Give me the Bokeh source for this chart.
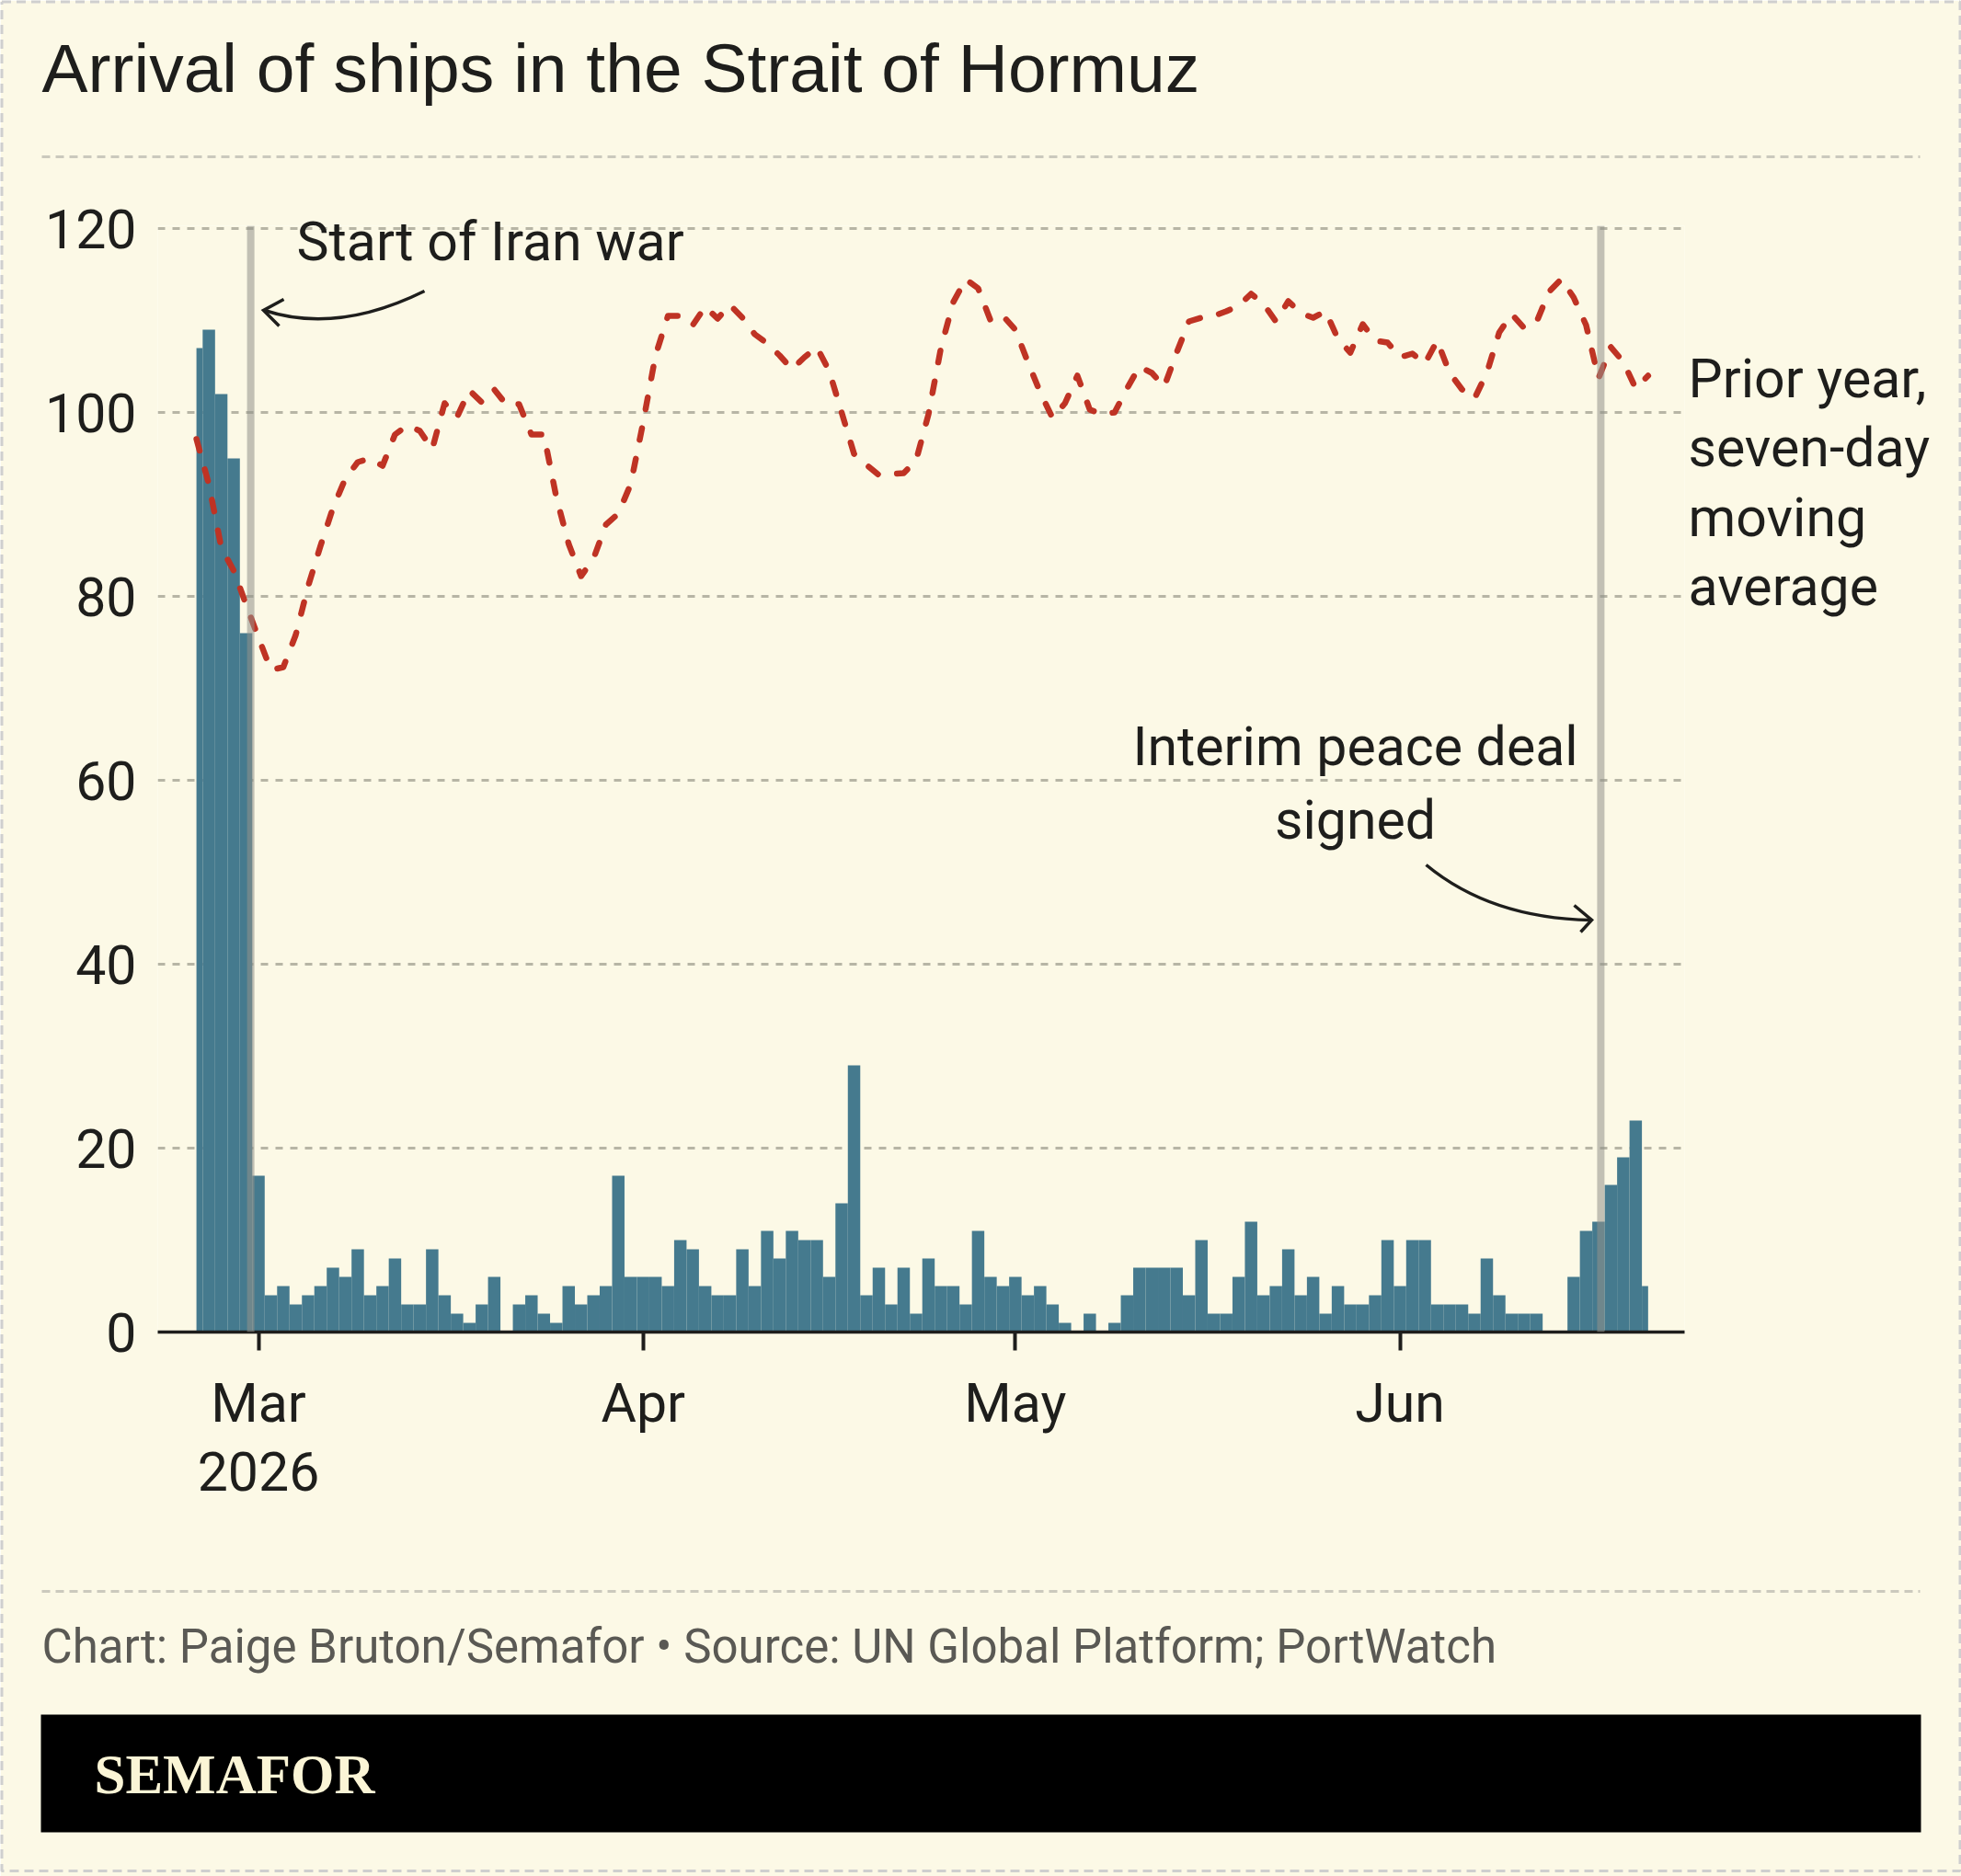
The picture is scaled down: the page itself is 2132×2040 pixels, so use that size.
import numpy as np
import pandas as pd
from bokeh.plotting import figure
from bokeh.models import Range1d, FixedTicker, Span
from bokeh.core.properties import value
from bokeh.embed import file_html
from bokeh.resources import INLINE

# ---------------- data ----------------
first_day = "2026-02-24"
last_day = "2026-06-21"
reference_day = "2026-03-01"

arrivals = [
    107, 109, 102, 95, 76,
    17, 4, 5, 3, 4, 5, 7, 6, 9, 4, 5, 8, 3, 3, 9, 4, 2, 1, 3, 6, 0, 3, 4, 2, 1, 5, 3, 4, 5, 17, 6,
    6, 6, 5, 10, 9, 5, 4, 4, 9, 5, 11, 8, 11, 10, 10, 6, 14, 29, 4, 7, 3, 7, 2, 8, 5, 5, 3, 11, 6, 5,
    6, 4, 5, 3, 1, 0, 2, 0, 1, 4, 7, 7, 7, 7, 4, 10, 2, 2, 6, 12, 4, 5, 9, 4, 6, 2, 5, 3, 3, 4, 10,
    5, 10, 10, 3, 3, 3, 2, 8, 4, 2, 2, 2, 0, 0, 6, 11, 12, 16, 19, 23, 5,
]

prior_year_avg = [
    97.1, 92.2, 85.3, 82.8, 79.1,
    75.5, 72.0, 72.3, 75.8, 81.1, 85.5, 89.6, 92.8, 94.6, 95.0, 94.2, 97.6, 98.6, 98.0, 96.0, 101.0,
    99.5, 102.4, 101.1, 102.5, 100.8, 100.9, 97.6, 97.6, 90.8, 85.7, 82.2, 84.1, 87.8, 89.0, 92.2,
    98.9, 106.2, 110.5, 110.5, 109.5, 111.5, 110.2, 111.7, 110.3, 108.5, 107.5, 106.2, 104.7, 106.0,
    107.1, 104.5, 100.0, 95.5, 94.3, 93.2, 93.3, 93.4, 94.8, 99.8, 107.0, 112.0, 114.5, 113.5, 110.0,
    110.5,
    109.0, 105.5, 102.2, 99.4, 101.0, 104.0, 100.3, 99.8, 100.0, 102.6, 105.0, 104.3, 102.8, 106.5,
    109.9, 110.3, 110.5, 111.0, 111.6, 112.9, 111.8, 109.9, 112.1, 110.8, 110.3, 111.0, 108.0, 106.5,
    109.6, 107.8, 107.6,
    106.0, 106.4, 105.3, 107.8, 104.3, 102.5, 101.5, 104.3, 108.7, 110.7, 109.2, 109.8, 113.1, 114.5,
    112.5, 109.5, 103.7, 107.1, 105.5, 102.6, 104.0,
]

tick_dates = ["2026-03-01", "2026-04-01", "2026-05-01", "2026-06-01"]
tick_labels = ["Mar\n2026", "Apr", "May", "Jun"]
y_ticks = [0, 20, 40, 60, 80, 100, 120]

event_times = ["2026-02-28 09:00", "2026-06-17 04:30"]

title_text = "Arrival of ships in the Strait of Hormuz"
war_text = "Start of Iran war"
deal_lines = ["Interim peace deal", "signed"]
prior_lines = ["Prior year,", "seven-day", "moving", "average"]
source_text = "Chart: Paige Bruton/Semafor \u2022 Source: UN Global Platform; PortWatch"
brand_text = "SEMAFOR"

# ---------------- derived ----------------
ref = pd.Timestamp(reference_day)
dates = pd.date_range(first_day, last_day, freq="D")
x = np.array((dates - ref).days, dtype=float)
lo, hi = x.min(), x.max()
left = np.maximum(x - 0.5, lo)
right = np.minimum(x + 0.5, hi)
tick_x = [int((pd.Timestamp(t) - ref).days) for t in tick_dates]
event_x = [(pd.Timestamp(t) - ref) / pd.Timedelta(days=1) for t in event_times]

# ---------------- style ----------------
BG = "#fcf9e6"
BAR = "#457a8e"
RED = "#bf3324"
INK = "#1e1e1c"
GRID = "#b7b5a5"
SEP = "#cbc9bd"
FOOT = "#5a5954"
FONT = "Roboto"

W, H = 2132, 2040
FL, FR, FT, FB = 171, 1831, 245, 1448

p = figure(width=W, height=H, output_backend="svg", toolbar_location=None, tools="",
           x_range=Range1d(-8.12, 114.94), y_range=Range1d(0, 120.3),
           min_border_left=FL, min_border_right=W - FR,
           min_border_top=FT, min_border_bottom=H - FB)
p.background_fill_color = BG
p.border_fill_color = BG
p.outline_line_color = None
p.title.visible = False

p.extra_x_ranges = {"px": Range1d(FL, FR)}
p.extra_y_ranges = {"px": Range1d(FB, FT)}

# axes
xa = p.xaxis[0]
xa.ticker = FixedTicker(ticks=tick_x)
xa.major_label_overrides = {t: lab for t, lab in zip(tick_x, tick_labels)}
xa.axis_line_color = INK
xa.axis_line_width = 3.5
xa.major_tick_line_color = INK
xa.major_tick_line_width = 4
xa.major_tick_out = 20
xa.major_tick_in = 0
xa.minor_tick_line_color = None
xa.major_label_text_font = FONT
xa.major_label_text_font_size = "59px"
xa.major_label_text_color = INK
xa.major_label_text_line_height = 1.1
xa.major_label_standoff = 22

ya = p.yaxis[0]
ya.ticker = FixedTicker(ticks=y_ticks)
ya.axis_line_color = None
ya.major_tick_line_color = None
ya.minor_tick_line_color = None
ya.major_label_text_font = FONT
ya.major_label_text_font_size = "59px"
ya.major_label_text_color = INK
ya.major_label_standoff = 17

p.xgrid.visible = False
p.ygrid.ticker = FixedTicker(ticks=y_ticks[1:])
p.ygrid.grid_line_color = GRID
p.ygrid.grid_line_width = 3
p.ygrid.grid_line_dash = "8 8"

# bars and line
p.quad(left=left, right=right, bottom=0, top=arrivals, fill_color=BAR, line_color=None)
p.line(x, prior_year_avg, line_color=RED, line_width=6.5, line_dash="13 21",
       line_cap="round", line_join="round")

for ex in event_x:
    p.add_layout(Span(location=ex, dimension="height", line_color="#91918a",
                      line_alpha=0.55, line_width=8))

PX = dict(x_range_name="px", y_range_name="px", level="overlay")


def txt(xs, ys, texts, font, size, color, align="left", style="normal"):
    p.text(x=xs, y=ys, text=texts, text_font=value(font), text_font_size=size,
           text_color=color, text_align=align, text_baseline="alphabetic",
           text_font_style=style, **PX)


# header
txt([45], [73], [title_text], "Liberation Sans", "75px", INK)
p.line([45, 2087], [170, 170], line_color=SEP, line_width=3, line_dash="9 6", **PX)

# annotations
txt([322], [262], [war_text], FONT, "59px", INK)
p.quadratic(x0=[461], y0=[316], x1=[287], y1=[337], cx=[366], cy=[363],
            line_color=INK, line_width=3.5, **PX)
p.multi_line(xs=[[308, 286, 303]], ys=[[325, 337, 354]], line_color=INK, line_width=3.5,
             line_join="miter", **PX)

txt([1473, 1473], [811, 891], deal_lines, FONT, "59px", INK, align="center")
p.quadratic(x0=[1550], y0=[940], x1=[1729], y1=[1000], cx=[1620], cy=[998],
            line_color=INK, line_width=3.5, **PX)
p.multi_line(xs=[[1711, 1730, 1718]], ys=[[984, 1000, 1013]], line_color=INK, line_width=3.5,
             line_join="miter", **PX)

txt([1835] * 4, [411, 486, 562, 637], prior_lines, FONT, "59px", INK)

# footer
p.line([45, 2087], [1730, 1730], line_color=SEP, line_width=3, line_dash="9 6", **PX)
txt([45], [1790], [source_text], FONT, "51px", FOOT)
p.quad(left=[44], right=[2088], bottom=[1992], top=[1864], fill_color="#000000",
       line_color=None, **PX)
txt([102], [1929], [brand_text], "Liberation Serif", "61px", "#fbf5d6", style="bold")

# page border
p.multi_line(xs=[[1.5, 2130.5, 2130.5, 1.5, 1.5]], ys=[[1.5, 1.5, 2034, 2034, 1.5]],
             line_color="#cfcfcf", line_width=3, line_dash="10 6", **PX)

open("out.html", "w").write(file_html(p, INLINE))
